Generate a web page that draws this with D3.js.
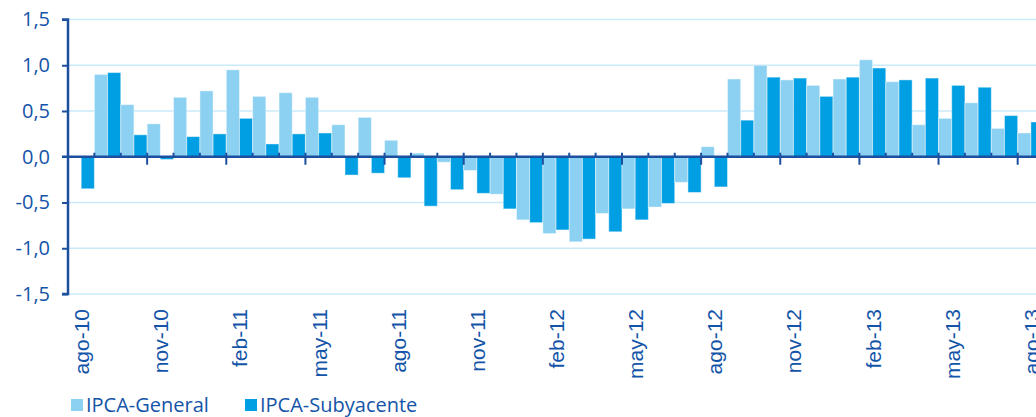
<!DOCTYPE html>
<html><head><meta charset="utf-8">
<script src="https://cdn.jsdelivr.net/npm/d3@7"></script>
<style>body{margin:0;background:#fff}svg{display:block}</style>
</head><body>
<svg id="c" width="1036" height="417"></svg>
<script>
const months = ["ago-10","sep-10","oct-10","nov-10","dic-10","ene-11","feb-11","mar-11","abr-11","may-11","jun-11","jul-11",
"ago-11","sep-11","oct-11","nov-11","dic-11","ene-12","feb-12","mar-12","abr-12","may-12","jun-12","jul-12",
"ago-12","sep-12","oct-12","nov-12","dic-12","ene-13","feb-13","mar-13","abr-13","may-13","jun-13","jul-13","ago-13"];
const general = [0.00,0.90,0.57,0.36,0.65,0.72,0.95,0.66,0.70,0.65,0.35,0.43,
0.18,0.04,-0.06,-0.15,-0.41,-0.69,-0.84,-0.93,-0.62,-0.57,-0.55,-0.28,
0.11,0.85,1.00,0.84,0.78,0.85,1.06,0.82,0.35,0.42,0.59,0.31,0.26];
const subyacente = [-0.35,0.92,0.24,-0.03,0.22,0.25,0.42,0.14,0.25,0.26,-0.20,-0.18,
-0.23,-0.54,-0.36,-0.40,-0.57,-0.72,-0.80,-0.90,-0.82,-0.69,-0.51,-0.39,
-0.33,0.40,0.87,0.86,0.66,0.87,0.97,0.84,0.86,0.78,0.76,0.45,0.38];
const seriesNames = ["IPCA-General","IPCA-Subyacente"];
const yTicks = [-1.5,-1.0,-0.5,0,0.5,1.0,1.5];
const tickLabels = months.filter((m,i)=>i%3===0);

const colors = {"IPCA-General":"#8CD1F2","IPCA-Subyacente":"#009FE3"};
const axisColor = "#1D4F9F", textColor = "#1454A8", gridColor = "#C9EAF8";

const svg = d3.select("#c");
const x0 = 68, step = 26.38;
const x = d3.scaleBand().domain(months).range([x0, x0 + step*months.length]).paddingInner(0).paddingOuter(0);
const xs = d3.scaleBand().domain(seriesNames).range([0, x.bandwidth()]).padding(0);
const y = d3.scaleLinear().domain([-1.5,1.5]).range([294,19.5]);

// grid
svg.append("g").selectAll("line").data(yTicks.filter(d=>d!==0)).join("line")
  .attr("x1",x0).attr("x2",1036).attr("y1",d=>y(d)).attr("y2",d=>y(d))
  .attr("stroke",gridColor).attr("stroke-width",1.5);

// bars
const data = months.map((m,i)=>({m, vals:[{s:"IPCA-General",v:general[i]},{s:"IPCA-Subyacente",v:subyacente[i]}]}));
const g = svg.append("g");
g.selectAll("g").data(data).join("g")
  .attr("transform",d=>`translate(${x(d.m)},0)`)
  .selectAll("rect").data(d=>d.vals.filter(e=>e.v!==0)).join("rect")
  .attr("x",e=>xs(e.s)).attr("width",xs.bandwidth())
  .attr("y",e=>y(Math.max(0,e.v))).attr("height",e=>Math.abs(y(e.v)-y(0)))
  .attr("fill",e=>colors[e.s]).attr("stroke","#ffffff").attr("stroke-opacity",0.45).attr("stroke-width",1);

// y axis
const yAxis = d3.axisLeft(y).tickValues(yTicks).tickSize(6).tickFormat(d=>d3.format(".1f")(d).replace(".",",").replace("−","-"));
const ya = svg.append("g").attr("transform",`translate(${x0},0)`).call(yAxis);
ya.select(".domain").attr("stroke",axisColor).attr("stroke-width",2.5).attr("d",`M-6,${y(1.5)}H0V${y(-1.5)}H-6`);
ya.selectAll(".tick line").attr("stroke",axisColor).attr("stroke-width",2);
ya.selectAll(".tick text").attr("fill",textColor).attr("x",-18)
  .style("font-family","'Open Sans', 'Noto Sans', sans-serif").style("font-size","20px");
ya.selectAll(".tick").filter(d=>d===0).select("line").remove();

// x axis (zero line)
const zy = y(0);
svg.append("line").attr("x1",x0-6).attr("x2",1036).attr("y1",zy).attr("y2",zy)
  .attr("stroke",axisColor).attr("stroke-width",2.5);
const bounds = d3.range(1, months.length+1);
svg.append("g").selectAll("line").data(bounds).join("line")
  .attr("x1",i=>x0 + i*x.step()).attr("x2",i=>x0 + i*x.step())
  .attr("y1",zy-4)
  .attr("y2",i=> i%3===0 ? zy+8 : zy)
  .attr("stroke",axisColor).attr("stroke-width",2);

// x labels
svg.append("g").selectAll("text").data(tickLabels).join("text")
  .attr("transform",d=>`translate(${x(d)+x.bandwidth()/2+8},309) rotate(-90)`)
  .attr("text-anchor","end")
  .attr("fill",textColor)
  .style("font-family","'Liberation Sans', Arial, sans-serif").style("font-size","21px")
  .text(d=>d);

// legend
const legX = [71, 245];
const lg = svg.append("g").selectAll("g").data(seriesNames).join("g")
  .attr("transform",(d,i)=>`translate(${legX[i]},0)`);
lg.append("rect").attr("x",0).attr("y",399).attr("width",12).attr("height",12).attr("fill",d=>colors[d]);
lg.append("text").attr("x",15).attr("y",412).attr("fill",textColor)
  .style("font-family","'Open Sans', 'Noto Sans', sans-serif").style("font-size","20px").text(d=>d);
</script>
</body></html>
